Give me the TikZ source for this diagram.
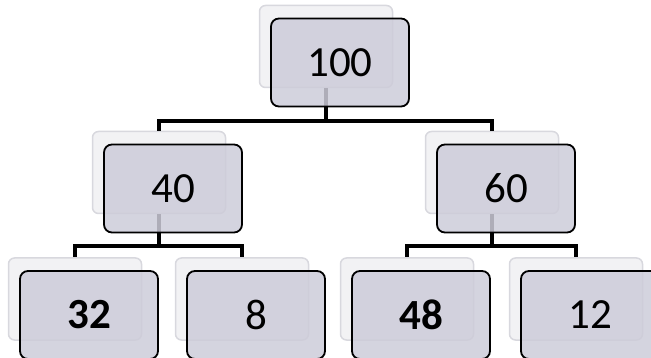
\documentclass[tikz,border=0pt]{standalone}
\usepackage{fontspec}
\setmainfont{Carlito}
\usepackage{tikz}
\definecolor{boxfill}{RGB}{205,204,217}
\definecolor{backfill}{RGB}{242,242,244}
\definecolor{backline}{RGB}{216,216,222}
\tikzset{
  backbox/.style={draw=backline,fill=backfill,line width=1.5pt,rounded corners=6pt,
    minimum width=133pt,minimum height=82pt,inner sep=0pt},
  frontbox/.style={draw=black,fill=boxfill,fill opacity=0.85,text opacity=1,
    line width=1.8pt,rounded corners=8pt,minimum width=138pt,minimum height=88pt,
    inner sep=0pt,font=\fontsize{43}{43}\selectfont},
  link/.style={line width=3.5pt}
}
\def\frontshift{shift={(14,16)}}

\begin{document}
\begin{tikzpicture}[x=1pt,y=-1pt]
  \useasboundingbox (0,0) rectangle (651,358);
  \clip (0,0) rectangle (651,358);
  \node[backbox] (b100) at (326,46.5) {};
  \node[backbox] (b40) at (159,172.5) {};
  \node[backbox] (b60) at (492,172.5) {};
  \node[backbox] (b32) at (75,299) {};
  \node[backbox] (b8) at (242,299) {};
  \node[backbox] (b48) at (407,299) {};
  \node[backbox] (b12) at (576,299) {};
  \draw[link] (b100.south) -- ++(0,33) -| (b40.north);
  \draw[link] (b100.south) -- ++(0,33) -| (b60.north);
  \draw[link] (b40.south) -- ++(0,32) -| (b32.north);
  \draw[link] (b40.south) -- ++(0,32) -| (b8.north);
  \draw[link] (b60.south) -- ++(0,32) -| (b48.north);
  \draw[link] (b60.south) -- ++(0,32) -| (b12.north);
  \node[frontbox] (n100) at ([shift={(14,16)}]b100.center) {100};
  \node[frontbox] (n40) at ([shift={(14,16)}]b40.center) {40};
  \node[frontbox] (n60) at ([shift={(14,16)}]b60.center) {60};
  \node[frontbox] (n32) at ([shift={(14,16)}]b32.center) {\textbf{32}};
  \node[frontbox] (n8) at ([shift={(14,16)}]b8.center) {8};
  \node[frontbox] (n48) at ([shift={(14,16)}]b48.center) {\textbf{48}};
  \node[frontbox] (n12) at ([shift={(14,16)}]b12.center) {12};
\end{tikzpicture}
\end{document}
